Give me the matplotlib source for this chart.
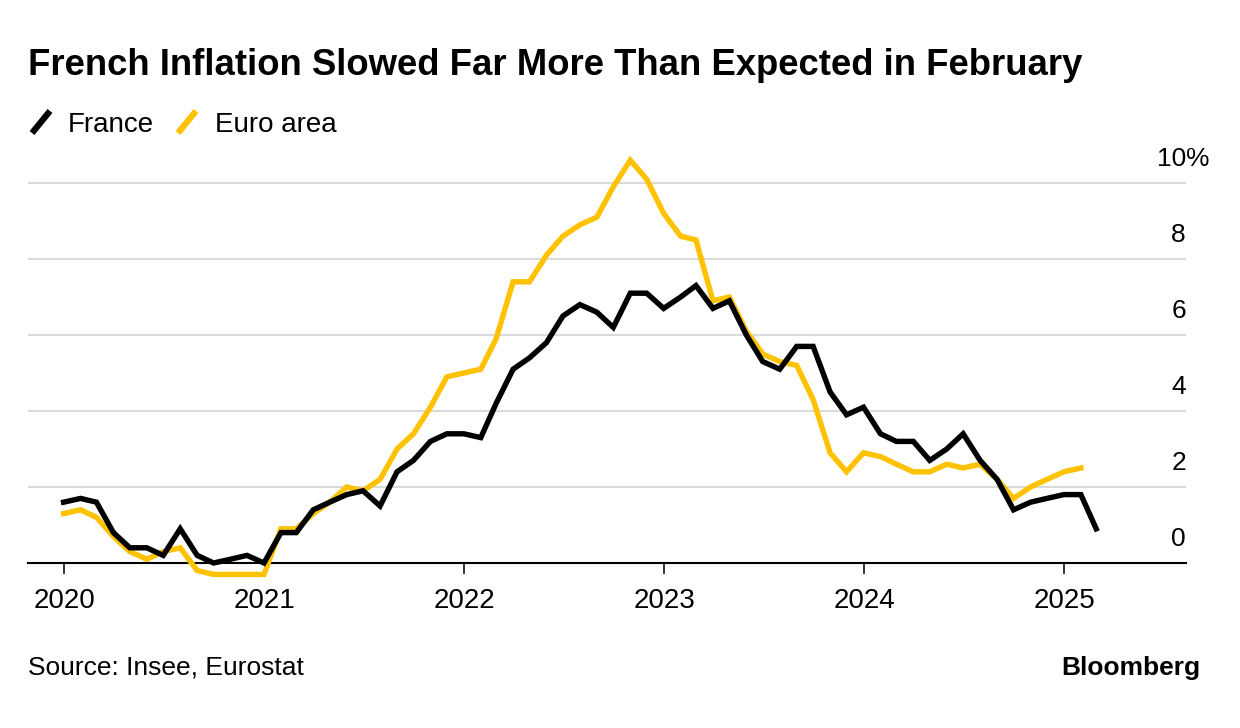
"""French vs euro-area HICP inflation, Bloomberg-style line chart."""
import matplotlib

matplotlib.use("Agg")
import matplotlib.pyplot as plt
import pandas as pd
from matplotlib.lines import Line2D

# monthly readings, plotted at month end, Dec 2019 onwards
FIRST_MONTH = "2019-12-31"
france = [
    1.6,
    1.7, 1.6, 0.8, 0.4, 0.4, 0.2, 0.9, 0.2, 0.0, 0.1, 0.2, 0.0,
    0.8, 0.8, 1.4, 1.6, 1.8, 1.9, 1.5, 2.4, 2.7, 3.2, 3.4, 3.4,
    3.3, 4.2, 5.1, 5.4, 5.8, 6.5, 6.8, 6.6, 6.2, 7.1, 7.1, 6.7,
    7.0, 7.3, 6.7, 6.9, 6.0, 5.3, 5.1, 5.7, 5.7, 4.5, 3.9, 4.1,
    3.4, 3.2, 3.2, 2.7, 3.0, 3.4, 2.7, 2.2, 1.4, 1.6, 1.7, 1.8,
    1.8, 0.9,
]
euro_area = [
    1.3,
    1.4, 1.2, 0.7, 0.3, 0.1, 0.3, 0.4, -0.2, -0.3, -0.3, -0.3, -0.3,
    0.9, 0.9, 1.3, 1.6, 2.0, 1.9, 2.2, 3.0, 3.4, 4.1, 4.9, 5.0,
    5.1, 5.9, 7.4, 7.4, 8.1, 8.6, 8.9, 9.1, 9.9, 10.6, 10.1, 9.2,
    8.6, 8.5, 6.9, 7.0, 6.1, 5.5, 5.3, 5.2, 4.3, 2.9, 2.4, 2.9,
    2.8, 2.6, 2.4, 2.4, 2.6, 2.5, 2.6, 2.2, 1.7, 2.0, 2.2, 2.4,
    2.5,
]
series_names = ["France", "Euro area"]
series_colors = ["#000000", "#ffc200"]
year_ticks = [2020, 2021, 2022, 2023, 2024, 2025]
y_ticks = [0, 2, 4, 6, 8, 10]

TITLE = "French Inflation Slowed Far More Than Expected in February"
SOURCE = "Source: Insee, Eurostat"

W, H = 1240, 728
FONT = "Liberation Sans"
GRID = "#d9d9d9"

plt.rcParams["font.family"] = [FONT, "DejaVu Sans"]

fr_dates = pd.date_range(FIRST_MONTH, periods=len(france), freq="ME")
ea_dates = pd.date_range(FIRST_MONTH, periods=len(euro_area), freq="ME")

fig = plt.figure(figsize=(W / 100, H / 100), dpi=100)


def fx(px):
    return px / W


def fy(py):
    return 1 - py / H


# plot box in pixels: x 28..1186, y-range -0.6..10.9 maps 585.8..148.8
ymin, ymax = -0.6, 10.9
y0_px, px_per_unit = 563, 38
bot_px = y0_px - ymin * px_per_unit
top_px = y0_px - ymax * px_per_unit
ax = fig.add_axes([fx(28), fy(bot_px), fx(1186 - 28), (bot_px - top_px) / H])

ax.set_xlim(pd.Timestamp("2019-10-27"), pd.Timestamp("2025-08-11"))
ax.set_ylim(ymin, ymax)

for v in y_ticks[1:]:
    ax.axhline(v, color=GRID, lw=1.4, zorder=1)

ax.plot(ea_dates, euro_area, color=series_colors[1], lw=3.9,
        solid_joinstyle="miter", zorder=3)
ax.plot(fr_dates, france, color=series_colors[0], lw=3.9,
        solid_joinstyle="miter", zorder=4)

for side in ["left", "right", "top"]:
    ax.spines[side].set_visible(False)
ax.spines["bottom"].set_position(("data", 0))
ax.spines["bottom"].set_linewidth(1.5)
ax.spines["bottom"].set_zorder(2)

ax.set_xticks([pd.Timestamp(f"{y}-01-01") for y in year_ticks])
ax.set_xticklabels([str(y) for y in year_ticks])
ax.tick_params(axis="x", direction="out", length=8, width=1.1, pad=10,
               labelsize=20, colors="black")
ax.set_yticks([])

for v in y_ticks:
    ax.annotate(str(v), xy=(1, v), xycoords=("axes fraction", "data"),
                xytext=(0, 12), textcoords="offset points",
                ha="right", va="baseline", fontsize=19)
    if v == y_ticks[-1]:
        ax.annotate("%", xy=(1, v), xycoords=("axes fraction", "data"),
                    xytext=(0, 12), textcoords="offset points",
                    ha="left", va="baseline", fontsize=19)

# title, legend, footer
fig.text(fx(28), fy(75), TITLE, fontsize=26.3, fontweight="bold",
         ha="left", va="baseline")

legend_items = [(32, 68), (178, 215)]
for (sx, tx), name, col in zip(legend_items, series_names, series_colors):
    fig.add_artist(Line2D([fx(sx), fx(sx + 18)], [fy(133), fy(111)],
                          color=col, lw=4.5, solid_capstyle="butt",
                          transform=fig.transFigure))
    fig.text(fx(tx), fy(132), name, fontsize=20, ha="left", va="baseline")

fig.text(fx(28), fy(675), SOURCE, fontsize=19, ha="left", va="baseline")
fig.text(fx(1200), fy(675), "Bloomberg", fontsize=19, fontweight="bold",
         ha="right", va="baseline")

fig.savefig("out.png", dpi=100, facecolor="white")
